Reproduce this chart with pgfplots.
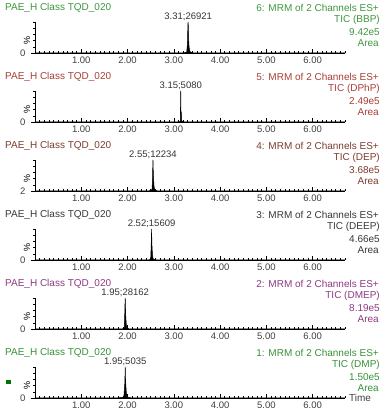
\documentclass[border=0pt]{standalone}
\usepackage{fontspec}
\setmainfont{Liberation Sans}
\usepackage{pgfplots}
\pgfplotsset{compat=1.18}
\definecolor{cG}{RGB}{62,150,62}
\definecolor{cR}{RGB}{168,62,52}
\definecolor{cB}{RGB}{125,60,45}
\definecolor{cK}{RGB}{55,55,55}
\definecolor{cP}{RGB}{140,58,130}
\definecolor{cG2}{RGB}{55,145,55}
\pgfplotsset{panel/.style={
  scale only axis, width=310pt, height=31pt,
  xmin=0, xmax=6.7, ymin=0, ymax=100,
  axis x line*=bottom, axis y line*=left,
  axis line style={-, black, line width=0.6pt},
  xtick={1,2,3,4,5,6}, xticklabels={1.00,2.00,3.00,4.00,5.00,6.00},
  minor xtick={0.1,0.2,...,6.7},
  ytick={0}, yticklabels={0}, minor ytick={20,40,60,80,100},
  tick style={black, line width=0.5pt},
  major tick length=4pt, minor tick length=2pt,
  xtick align=inside, ytick align=outside,
  tick label style={font=\fontsize{9.5}{11}\selectfont, text=black!75},
  yticklabel style={xshift=-2pt},
  clip=false, anchor=south west,
  after end axis/.code={\node[rotate=90, font=\fontsize{9}{10}\selectfont, inner sep=0pt] at ([xshift=-8pt]axis description cs:0,0.4) {\%};},
}}
\tikzset{pk/.style={anchor=south, inner sep=1pt, font=\fontsize{9.5}{11}\selectfont, text=black!80},
 tt/.style={inner sep=0pt, font=\fontsize{10}{12}\selectfont}}
\begin{document}
\begin{tikzpicture}
\useasboundingbox (0pt,0pt) rectangle (387pt,415pt);
% Panel 6 (BBP)
\begin{axis}[panel, at={(35pt,362pt)}]
\addplot[black, fill=black, line width=0.5pt] coordinates {(0,0) (3.18,0) (3.22,1) (3.26,2) (3.28,4) (3.295,30) (3.305,95) (3.31,100) (3.315,80) (3.32,45) (3.33,20) (3.34,8) (3.36,3) (3.40,1) (3.45,0) (6.7,0)};
\node[pk] at (axis cs:3.31,100) {3.31;26921};
\end{axis}
\node[tt, anchor=west, text=cG] at (5pt,407pt) {PAE\_H Class TQD\_020};
\node[tt, anchor=east, text=cG] at (379pt,407pt) {6: MRM of 2 Channels ES+};
\node[tt, anchor=east, text=cG] at (380pt,395pt) {TIC (BBP)};
\node[tt, anchor=east, text=cG] at (380pt,383pt) {9.42e5};
\node[tt, anchor=east, text=cG] at (379pt,372pt) {Area};
% Panel 5 (DPhP)
\begin{axis}[panel, at={(35pt,293pt)}]
\addplot[black, fill=black, line width=0.5pt] coordinates {(0,0) (3.10,0) (3.13,1) (3.14,3) (3.145,50) (3.15,100) (3.153,40) (3.156,30) (3.16,32) (3.165,25) (3.17,5) (3.19,1) (3.22,0) (6.7,0)};
\node[pk] at (axis cs:3.15,100) {3.15;5080};
\end{axis}
\node[tt, anchor=west, text=cR] at (5pt,338pt) {PAE\_H Class TQD\_020};
\node[tt, anchor=east, text=cR] at (379pt,338pt) {5: MRM of 2 Channels ES+};
\node[tt, anchor=east, text=cR] at (380pt,326pt) {TIC (DPhP)};
\node[tt, anchor=east, text=cR] at (380pt,314pt) {2.49e5};
\node[tt, anchor=east, text=cR] at (379pt,303pt) {Area};
% Panel 4 (DEP)
\begin{axis}[panel, at={(35pt,224pt)}, yticklabels={2}]
\addplot[black, fill=black, line width=0.5pt] coordinates {(0,0) (2.45,0) (2.50,2) (2.53,5) (2.54,40) (2.545,75) (2.55,100) (2.555,70) (2.56,50) (2.57,20) (2.58,8) (2.60,3) (2.65,0) (6.7,0)};
\node[pk] at (axis cs:2.55,100) {2.55;12234};
\end{axis}
\node[tt, anchor=west, text=cB] at (5pt,269pt) {PAE\_H Class TQD\_020};
\node[tt, anchor=east, text=cB] at (379pt,269pt) {4: MRM of 2 Channels ES+};
\node[tt, anchor=east, text=cB] at (380pt,257pt) {TIC (DEP)};
\node[tt, anchor=east, text=cB] at (380pt,245pt) {3.68e5};
\node[tt, anchor=east, text=cB] at (379pt,234pt) {Area};
% Panel 3 (DEEP)
\begin{axis}[panel, at={(35pt,155pt)}]
\addplot[black, fill=black, line width=0.5pt] coordinates {(0,0) (2.44,0) (2.48,1) (2.50,3) (2.51,40) (2.515,70) (2.52,100) (2.525,60) (2.53,40) (2.54,15) (2.55,5) (2.57,2) (2.62,0) (6.7,0)};
\node[pk] at (axis cs:2.52,100) {2.52;15609};
\end{axis}
\node[tt, anchor=west, text=cK] at (5pt,200pt) {PAE\_H Class TQD\_020};
\node[tt, anchor=east, text=cK] at (379pt,200pt) {3: MRM of 2 Channels ES+};
\node[tt, anchor=east, text=cK] at (380pt,188pt) {TIC (DEEP)};
\node[tt, anchor=east, text=cK] at (380pt,176pt) {4.66e5};
\node[tt, anchor=east, text=cK] at (379pt,165pt) {Area};
% Panel 2 (DMEP)
\begin{axis}[panel, at={(35pt,86pt)}]
\addplot[black, fill=black, line width=0.5pt] coordinates {(0,0) (1.86,0) (1.90,1) (1.93,3) (1.94,50) (1.945,80) (1.95,100) (1.955,70) (1.96,45) (1.97,20) (1.98,6) (2.00,2) (2.05,0) (6.7,0)};
\node[pk] at (axis cs:1.95,100) {1.95;28162};
\end{axis}
\node[tt, anchor=west, text=cP] at (5pt,131pt) {PAE\_H Class TQD\_020};
\node[tt, anchor=east, text=cP] at (379pt,131pt) {2: MRM of 2 Channels ES+};
\node[tt, anchor=east, text=cP] at (380pt,119pt) {TIC (DMEP)};
\node[tt, anchor=east, text=cP] at (380pt,107pt) {8.19e5};
\node[tt, anchor=east, text=cP] at (379pt,96pt) {Area};
% Panel 1 (DMP)
\begin{axis}[panel, at={(35pt,17pt)}]
\addplot[black, fill=black, line width=0.5pt] coordinates {(0,0) (1.75,0) (1.82,1) (1.88,2) (1.92,3) (1.94,45) (1.945,70) (1.95,100) (1.955,65) (1.96,50) (1.97,25) (1.98,8) (2.00,3) (2.06,1) (2.10,0) (6.7,0)};
\node[pk] at (axis cs:1.95,100) {1.95;5035};
\end{axis}
\node[tt, anchor=west, text=cG2] at (5pt,62pt) {PAE\_H Class TQD\_020};
\node[tt, anchor=east, text=cG2] at (379pt,62pt) {1: MRM of 2 Channels ES+};
\node[tt, anchor=east, text=cG2] at (380pt,50pt) {TIC (DMP)};
\node[tt, anchor=east, text=cG2] at (380pt,38pt) {1.50e5};
\node[tt, anchor=east, text=cG2] at (379pt,27pt) {Area};
\node[tt, anchor=west, text=black!75] at (349pt,17pt) {Time};
\node[fill=green!45!black, minimum width=5pt, minimum height=4pt, inner sep=0pt] at (8pt,33pt) {};
\end{tikzpicture}
\end{document}
